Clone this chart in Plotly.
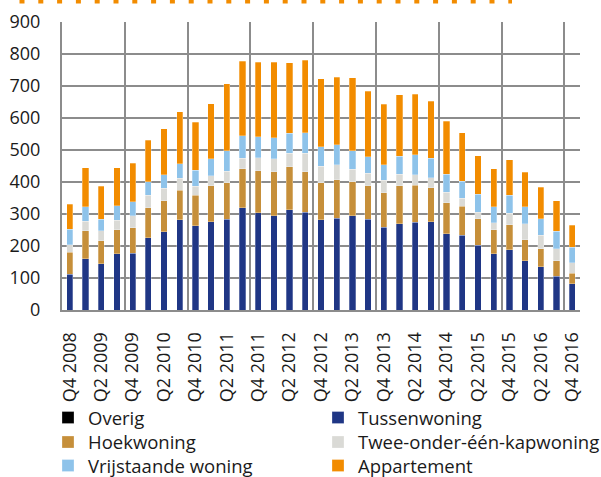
import plotly.graph_objects as go

quarters = ["Q4 2008", "Q1 2009", "Q2 2009", "Q3 2009", "Q4 2009", "Q1 2010", "Q2 2010", "Q3 2010",
            "Q4 2010", "Q1 2011", "Q2 2011", "Q3 2011", "Q4 2011", "Q1 2012", "Q2 2012", "Q3 2012",
            "Q4 2012", "Q1 2013", "Q2 2013", "Q3 2013", "Q4 2013", "Q1 2014", "Q2 2014", "Q3 2014",
            "Q4 2014", "Q1 2015", "Q2 2015", "Q3 2015", "Q4 2015", "Q1 2016", "Q2 2016", "Q3 2016",
            "Q4 2016"]

overig = [0, 0, 0, 0, 0, 0, 0, 0, 0, 0, 0, 0, 0, 0, 0, 0, 0,
          0, 0, 0, 0, 0, 0, 0, 0, 0, 0, 0, 0, 0, 0, 0, 0]
tussenwoning = [112, 160, 144, 176, 177, 226, 245, 282, 263, 276, 283, 320, 304, 295, 314, 305, 282,
                287, 295, 283, 258, 270, 274, 276, 238, 234, 202, 176, 188, 154, 135, 105, 82]
hoekwoning = [69, 88, 72, 75, 80, 94, 97, 93, 95, 112, 114, 122, 131, 137, 134, 127, 116,
              120, 106, 105, 109, 118, 116, 106, 97, 91, 83, 75, 79, 66, 57, 49, 33]
twee_onder_een_kap = [23, 30, 31, 30, 37, 38, 38, 37, 28, 31, 37, 33, 41, 41, 42, 58, 52,
                      47, 39, 40, 38, 37, 33, 32, 33, 24, 21, 22, 36, 50, 41, 38, 33]
vrijstaand = [49, 45, 37, 45, 45, 43, 42, 45, 51, 53, 64, 69, 66, 65, 62, 64, 60,
              62, 57, 51, 49, 56, 62, 60, 57, 54, 56, 50, 56, 53, 52, 54, 48]
appartement = [78, 121, 102, 118, 120, 129, 145, 163, 150, 173, 209, 234, 233, 236, 220, 226, 213,
               212, 229, 204, 189, 192, 190, 178, 165, 151, 120, 118, 111, 107, 99, 95, 69]

series_names = ["Overig", "Tussenwoning", "Hoekwoning", "Twee-onder-één-kapwoning",
                "Vrijstaande woning", "Appartement"]
series_values = [overig, tussenwoning, hoekwoning, twee_onder_een_kap, vrijstaand, appartement]
series_colors = ["#000000", "#1f3685", "#c68f3a", "#dadad6", "#8ec3ea", "#f28c00"]

y_ticks = [0, 100, 200, 300, 400, 500, 600, 700, 800, 900]

x_idx = list(range(len(quarters)))

W, H = 601, 477
L, T, PW, PH = 62, 22, 518, 288
grid = "#8c8c8c"

# legend grid: 2 columns x 3 rows (left px of legend box, top px of legend box)
legend_cols = [48, 318]
legend_rows = [399, 423.5, 447]

fig = go.Figure()
legend_layout = {}
for i, (name, vals, col) in enumerate(zip(series_names, series_values, series_colors)):
    lid = "legend" if i == 0 else f"legend{i + 1}"
    fig.add_trace(go.Bar(
        x=x_idx, y=vals, name=name, legend=lid,
        marker=dict(color=col, line=dict(color="rgba(255,255,255,0.35)", width=0.8)),
    ))
    cx = legend_cols[i % 2]
    ry = legend_rows[i // 2]
    legend_layout[lid] = dict(
        orientation="h", xref="paper", yref="paper",
        x=(cx - L) / PW, xanchor="left", y=(T + PH - ry) / PH, yanchor="top",
        font=dict(size=18.5), bgcolor="rgba(0,0,0,0)", borderwidth=0,
    )

fig.update_layout(
    width=W, height=H,
    margin=dict(l=L, r=W - L - PW, t=T, b=H - T - PH, autoexpand=False),
    paper_bgcolor="white", plot_bgcolor="white",
    barmode="stack", bargap=0.6,
    font=dict(family="Open Sans", size=18, color="#1a1a1a"),
    showlegend=True,
    xaxis=dict(
        range=[-0.5, len(quarters) - 0.5], automargin=False,
        tickmode="array", tickvals=x_idx[::2], ticktext=quarters[::2],
        tickangle=-90, showgrid=False, zeroline=False,
        showline=True, linecolor=grid, linewidth=2,
        ticks="", ticklabelstandoff=13,
        minor=dict(tickmode="linear", tick0=-0.5, dtick=4, showgrid=True,
                   gridcolor=grid, gridwidth=2, ticks=""),
    ),
    yaxis=dict(
        range=[0, 900], tickmode="array", tickvals=y_ticks, automargin=False,
        showgrid=True, gridcolor=grid, gridwidth=2, zeroline=False,
        showline=True, linecolor=grid, linewidth=2,
        ticks="", ticklabelstandoff=16,
    ),
    shapes=[dict(
        type="line", xref="paper", yref="paper",
        x0=(19.5 - L) / PW, x1=(512 - L) / PW, y0=(T + PH - 1) / PH, y1=(T + PH - 1) / PH,
        line=dict(color="#f28c00", width=5, dash="5px,13.8px"),
    )],
    **legend_layout,
)

fig.write_html(
    "out.html",
    config={"displayModeBar": False},
    post_script="document.body.style.margin='0';document.body.style.overflow='hidden';",
)
